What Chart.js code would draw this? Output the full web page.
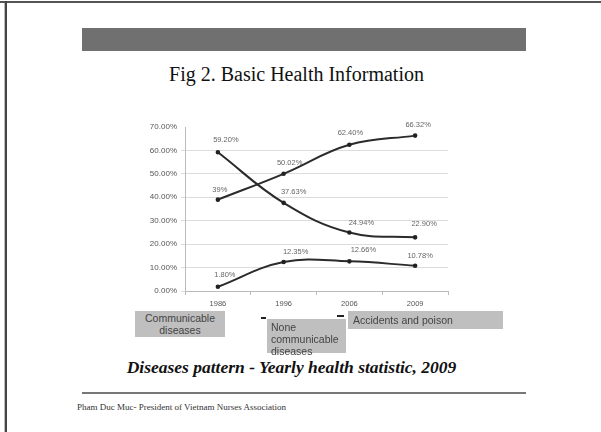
<!DOCTYPE html>
<html lang="en">
<head>
<meta charset="UTF-8">
<title>Fig 2. Basic Health Information</title>
<script src="https://cdn.jsdelivr.net/npm/chart.js"></script>
<style>
    html, body { margin: 0; padding: 0; background: #fff; }
    body { width: 601px; height: 432px; position: relative; overflow: hidden; }
    .abs { position: absolute; }
    .frame-top { left: 0; top: 1px; width: 601px; height: 1.5px; background: #555; }
    .frame-left { left: 5px; top: 1px; width: 1.5px; height: 432px; background: #444; }
    .frame-left2 { left: 3.5px; top: 1px; width: 1.5px; height: 432px; background: #bbb; }
    .bar { left: 82px; top: 28px; width: 444px; height: 23px; background: #707070; }
    .title { left: 0; width: 601px; top: 63px; text-align: center; font: 20px "Liberation Serif", "Times New Roman", serif; color: #111; transform: translateX(-4px); }
    .caption { left: 0; width: 601px; top: 357px; text-align: center; font: italic bold 17.5px "Liberation Serif", "Times New Roman", serif; color: #111; transform: translateX(-9px); }
    .rule { left: 82px; top: 392px; width: 444px; height: 2px; background: #777; }
    .footer { left: 77px; top: 402px; font: 9px "Liberation Serif", "Times New Roman", serif; color: #333; white-space: nowrap; }
    .key { background: #bfbfbf; font: 10.5px "Liberation Sans", Arial, sans-serif; color: #444; line-height: 12px; }
    .mark { background: #222; height: 2px; }
    #chartBox { left: 110px; top: 110px; width: 350px; height: 205px; }
</style>
</head>
<body>
    <div class="abs frame-left2"></div>
    <div class="abs frame-top"></div>
    <div class="abs frame-left"></div>
    <div class="abs bar"></div>
    <div class="abs title">Fig 2. Basic Health Information</div>

    <div class="abs" id="chartBox"><canvas id="healthChart" width="350" height="205"></canvas></div>

    <div class="abs key" style="left:135px;top:311px;width:90px;height:26px;text-align:center;padding-top:1px;box-sizing:border-box;">Communicable<br>diseases</div>
    <div class="abs mark" style="left:261px;top:317px;width:5px;"></div>
    <div class="abs key" style="left:267px;top:319px;width:79px;height:34px;padding:2px 0 0 4px;box-sizing:border-box;">None<br>communicable<br>diseases</div>
    <div class="abs mark" style="left:337px;top:315px;width:7px;"></div>
    <div class="abs key" style="left:348px;top:311px;width:155px;height:18px;padding:3px 0 0 5px;box-sizing:border-box;">Accidents and poison</div>

    <div class="abs caption">Diseases pattern - Yearly health statistic, 2009</div>
    <div class="abs rule"></div>
    <div class="abs footer">Pham Duc Muc- President of Vietnam Nurses Association</div>

<script>
    // données
    const years = ['1986', '1996', '2006', '2009'];
    const communicable = [59.20, 37.63, 24.94, 22.90];
    const nonCommunicable = [39, 50.02, 62.40, 66.32];
    const accidents = [1.80, 12.35, 12.66, 10.78];
    const yTicks = [0, 10, 20, 30, 40, 50, 60, 70];

    // décalage des étiquettes (px) par rapport aux points
    const labelShift = [
        [[8, -12], [10, -11], [12, -10], [9, -13]],
        [[2, -10], [6, -11], [1, -12], [3, -11]],
        [[7, -12], [12, -10], [14, -11], [5, -10]]
    ];

    function fmt(v) {
        return Number.isInteger(v) ? v + '%' : v.toFixed(2) + '%';
    }

    const pointLabels = {
        id: 'pointLabels',
        afterDatasetsDraw(chart) {
            const ctx = chart.ctx;
            ctx.save();
            ctx.font = '7.5px "Liberation Sans", Arial, sans-serif';
            ctx.fillStyle = '#666';
            ctx.textAlign = 'center';
            ctx.textBaseline = 'middle';
            chart.data.datasets.forEach((ds, i) => {
                chart.getDatasetMeta(i).data.forEach((pt, j) => {
                    const s = labelShift[i][j];
                    ctx.fillText(fmt(ds.data[j]), pt.x + s[0], pt.y + s[1]);
                });
            });
            ctx.restore();
        }
    };

    const lineStyle = {
        borderColor: '#2b2b2b',
        borderWidth: 2,
        tension: 0.4,
        pointRadius: 1.3,
        pointBackgroundColor: '#222',
        pointBorderColor: '#222',
        fill: false
    };

    new Chart(document.getElementById('healthChart').getContext('2d'), {
        type: 'line',
        data: {
            labels: years,
            datasets: [
                { label: 'Communicable diseases', data: communicable, ...lineStyle },
                { label: 'None communicable diseases', data: nonCommunicable, ...lineStyle },
                { label: 'Accidents and poison', data: accidents, ...lineStyle }
            ]
        },
        options: {
            responsive: false,
            animation: false,
            layout: { padding: { top: 17, right: 12, left: 0, bottom: 0 } },
            plugins: {
                legend: { display: false },
                tooltip: { enabled: false }
            },
            scales: {
                x: {
                    offset: true,
                    afterFit: s => { s.height = 24; },
                    grid: { offset: true, drawOnChartArea: false, tickLength: 4, color: '#bbb' },
                    border: { color: '#bbb' },
                    ticks: { color: '#555', padding: 4, font: { size: 7.5, family: '"Liberation Sans", Arial, sans-serif' } }
                },
                y: {
                    min: 0,
                    max: 70,
                    afterFit: s => { s.width = 75; },
                    afterBuildTicks: s => { s.ticks = yTicks.map(v => ({ value: v })); },
                    grid: {
                        tickLength: 4,
                        color: c => (c.tick && c.tick.value === 70) ? 'rgba(0,0,0,0)' : '#dcdcdc'
                    },
                    border: { color: '#bbb' },
                    ticks: {
                        color: '#555',
                        padding: 4,
                        font: { size: 8, family: '"Liberation Sans", Arial, sans-serif' },
                        callback: v => v.toFixed(2) + '%'
                    }
                }
            }
        },
        plugins: [pointLabels]
    });
</script>
</body>
</html>
